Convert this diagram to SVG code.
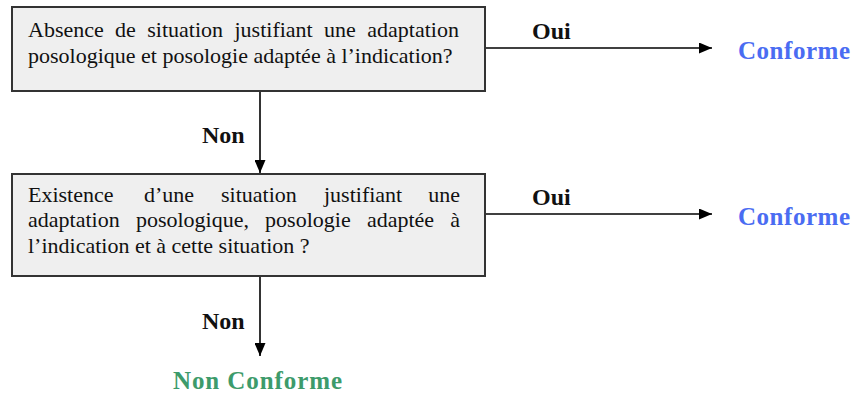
<svg xmlns="http://www.w3.org/2000/svg" width="854" height="394" viewBox="0 0 854 394">
  <defs>
    <marker id="arrow" viewBox="0 0 13 11" refX="13" refY="5.5" markerWidth="13" markerHeight="11" markerUnits="userSpaceOnUse" orient="auto">
      <path d="M0,0 L13,5.5 L0,11 Z" fill="#000"/>
    </marker>
    <style>
      .box { fill: #efefef; stroke: #333; stroke-width: 2; }
      .q { font-family: "Liberation Serif", "Times New Roman", serif; font-size: 22px; fill: #111; }
      .lbl { font-family: "Liberation Serif", "Times New Roman", serif; font-size: 24px; font-weight: bold; fill: #111; }
      .ok { font-family: "Liberation Serif", "Times New Roman", serif; font-size: 25px; font-weight: bold; fill: #4a6cf2; }
      .ko { font-family: "Liberation Serif", "Times New Roman", serif; font-size: 25px; font-weight: bold; fill: #3d9b6b; }
      .edge { stroke: #000; stroke-width: 1.6; fill: none; }
    </style>
  </defs>

  <!-- connectors -->
  <g id="connectors">
    <line class="edge" x1="486" y1="48" x2="712" y2="48" marker-end="url(#arrow)"/>
    <line class="edge" x1="260" y1="91" x2="260" y2="173" marker-end="url(#arrow)"/>
    <line class="edge" x1="486" y1="214" x2="712" y2="214" marker-end="url(#arrow)"/>
    <line class="edge" x1="260" y1="277" x2="260" y2="356" marker-end="url(#arrow)"/>
    <text class="lbl" x="532" y="39">Oui</text>
    <text class="lbl" x="202" y="143">Non</text>
    <text class="lbl" x="532" y="205">Oui</text>
    <text class="lbl" x="202" y="329">Non</text>
  </g>

  <!-- first question -->
  <g id="q1">
    <rect class="box" x="12" y="7" width="473" height="84"/>
    <text class="q" y="37"><tspan x="28">Absence</tspan><tspan x="115.1">de</tspan><tspan x="147.3">situation</tspan><tspan x="234.5">justifiant</tspan><tspan x="324.1">une</tspan><tspan x="367.3">adaptation</tspan></text>
    <text class="q" x="28" y="63">posologique et posologie adaptée à l’indication?</text>
  </g>

  <!-- second question -->
  <g id="q2">
    <rect class="box" x="12" y="174" width="473" height="102"/>
    <text class="q" y="202"><tspan x="28">Existence</tspan><tspan x="144">d’une</tspan><tspan x="221">situation</tspan><tspan x="324">justifiant</tspan><tspan x="428.2">une</tspan></text>
    <text class="q" y="227"><tspan x="28">adaptation</tspan><tspan x="135.9">posologique,</tspan><tspan x="265.1">posologie</tspan><tspan x="366.9">adaptée</tspan><tspan x="450.3">à</tspan></text>
    <text class="q" x="28" y="253">l’indication et à cette situation ?</text>
  </g>

  <!-- outcomes -->
  <g id="conforme1">
    <text class="ok" x="738" y="59" textLength="112" lengthAdjust="spacing">Conforme</text>
  </g>
  <g id="conforme2">
    <text class="ok" x="738" y="225" textLength="112" lengthAdjust="spacing">Conforme</text>
  </g>
  <g id="non-conforme">
    <text class="ko" x="173" y="389" textLength="169" lengthAdjust="spacing">Non Conforme</text>
  </g>
</svg>
